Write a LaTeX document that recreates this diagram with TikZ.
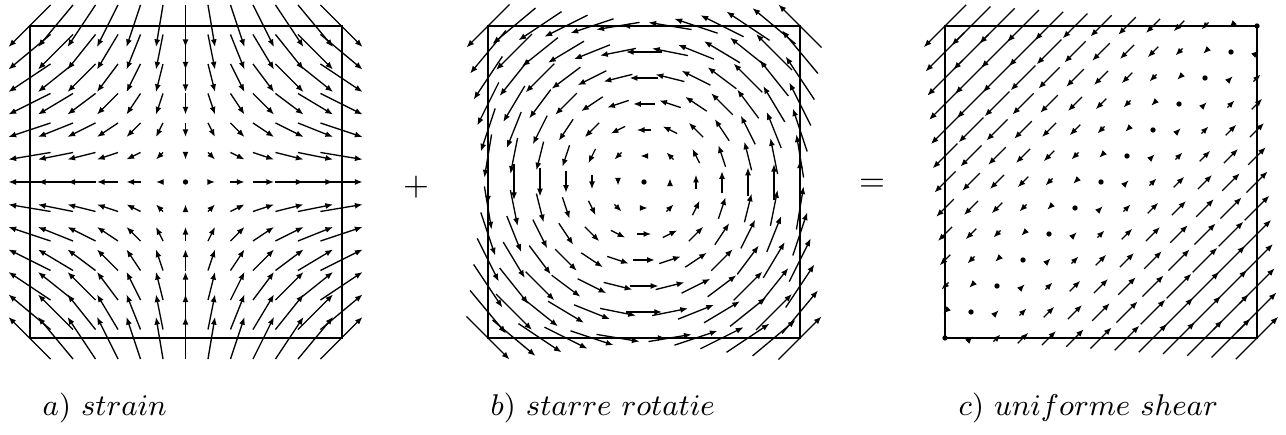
\documentclass[tikz,border=0pt]{standalone}
\usepackage{tikz}
\usetikzlibrary{arrows.meta,calc}
\tikzset{
    vec/.style={
        -{Latex[length=2.3pt,width=1.8pt]},line width=.4pt
    },
    frame/.style={
        line width=.6pt
    },
    lab/.style={
        anchor=base west,inner sep=0pt,font=\fontsize{8.8}{10}\selectfont
    },
    op/.style={
        inner sep=0pt,font=\fontsize{10}{12}\selectfont
    }
}
% one field vector, centred on (#1,#2), half vector (#3,#4)
\newcommand\fieldvec[4]{%
    \pgfmathtruncatemacro\iszero{(abs(#3)+abs(#4))<0.5}%
    \ifnum\iszero=1
        \fill (#1,#2) circle[radius=.8pt];
    \else
        \draw[vec] ($(#1,#2)-(#3,#4)$) -- ($(#1,#2)+(#3,#4)$);
    \fi}

\begin{document}
\begin{tikzpicture}[x=.3pt,y=.3pt]
\useasboundingbox (0,0) rectangle (1286,435);

% a) strain
\draw[frame] (29.5,97) rectangle (341.5,409);
\foreach \i in {-6,...,6}
\foreach \j in {-6,...,6}{
    \pgfmathsetmacro\px{185.5+26*\i}
    \pgfmathsetmacro\py{253+26*\j}
    \pgfmathsetmacro\hx{0.135*26*\i}
    \pgfmathsetmacro\hy{-0.135*26*\j}
    \fieldvec{\px}{\py}{\hx}{\hy}
}

% b) starre rotatie
\draw[frame] (488,97) rectangle (800,409);
\foreach \i in {-6,...,6}
\foreach \j in {-6,...,6}{
    \pgfmathsetmacro\px{644+26*\i}
    \pgfmathsetmacro\py{253+26*\j}
    \pgfmathsetmacro\hx{-0.138*26*\j}
    \pgfmathsetmacro\hy{0.138*26*\i}
    \fieldvec{\px}{\py}{\hx}{\hy}
}

% c) uniforme shear
\draw[frame] (945,97) rectangle (1257,409);
\foreach \i in {-6,...,6}
\foreach \j in {-6,...,6}{
    \pgfmathsetmacro\px{1101+26*\i}
    \pgfmathsetmacro\py{253+26*\j}
    \pgfmathsetmacro\hx{0.068*26*(\i-\j)}
    \fieldvec{\px}{\py}{\hx}{\hx}
}

\node[op] (plus) at (416,248) {$+$};
\node[op] (eq) at (872,250) {$=$};

\node[lab] (la) at (42,19) {$a)\ strain$};
\node[lab] (lb) at (490,19) {$b)\ starre\ rotatie$};
\node[lab] (lc) at (958,19) {$c)\ uniforme\ shear$};

\end{tikzpicture}
\end{document}
